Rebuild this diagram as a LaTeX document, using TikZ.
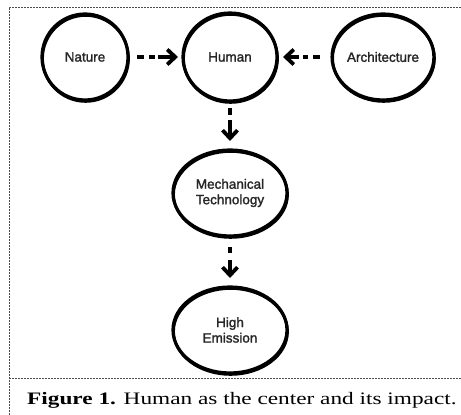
\documentclass[tikz,border=0pt]{standalone}
\usepackage{fontspec}
\usepackage{graphicx}
\setmainfont{Liberation Serif}
\setsansfont{Liberation Sans}
\newfontfamily\nodefont[BoldFont={Liberation Sans}, BoldFeatures={FakeBold=1.6}]{Liberation Sans}
\usetikzlibrary{arrows.meta,shapes.geometric}
\begin{document}
\begin{tikzpicture}[x=1pt,y=-1pt,
  blob/.style={ellipse, draw=black, line width=3.2pt, inner sep=0pt, outer sep=0pt,
    font=\nodefont\bfseries\fontsize{13.5}{15.5}\selectfont, text=black!85, align=center,
    preaction={draw=black, line width=2.6pt, transform canvas={shift={(0.6pt,-1.5pt)}}}},
  flow/.style={line width=3.8pt, -{Straight Barb[length=8pt,width=15pt]}},
  frame/.style={draw=black!70, line width=0.6pt, dash pattern=on 2pt off 1pt}]
\useasboundingbox (0,0) rectangle (461,415);
\fill[white] (0,0) rectangle (461,415);
% frame
\draw[frame] (9,415) -- (9,7) -- (461,7);
\draw[frame] (9,378) -- (461,378);
% nodes
\node[blob, minimum width=86pt, minimum height=86pt] (nature) at (85,57) {Nature};
\node[blob, minimum width=94pt, minimum height=88pt] (human) at (230,57) {Human};
\node[blob, minimum width=96pt, minimum height=86pt] (arch) at (383,57) {Architecture};
\node[blob, minimum width=114pt, minimum height=86pt] (mech) at (230,193) {Mechanical\\Technology};
\node[blob, minimum width=114pt, minimum height=86pt] (high) at (230,330) {High\\Emission};
% connectors
\draw[flow, dash pattern=on 7pt off 5pt on 6pt off 3pt on 40pt, shorten <=9pt, shorten >=5pt] (nature) -- (human);
\draw[flow, dash pattern=on 7pt off 5pt on 5pt off 4pt on 40pt, shorten <=12pt, shorten >=6pt] (arch) -- (human);
\draw[flow, dash pattern=on 7pt off 5pt on 40pt, shorten <=7pt, shorten >=9pt] (human) -- (mech);
\draw[flow, dash pattern=on 6pt off 7pt on 40pt, shorten <=11pt, shorten >=9pt] (mech) -- (high);
% caption
\node[anchor=base west, inner sep=0pt] (cap) at (27,404)
  {\scalebox{1.33}[1]{\fontsize{17.5}{20}\selectfont\textbf{Figure 1.} Human as the center and its impact.}};
\end{tikzpicture}
\end{document}
